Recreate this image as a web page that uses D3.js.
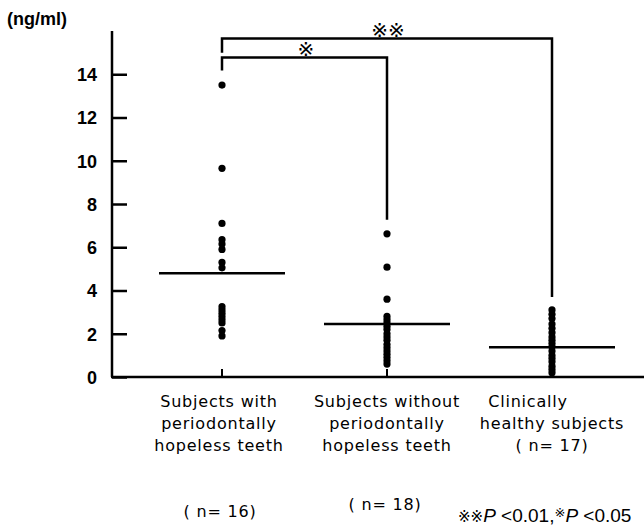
<!DOCTYPE html>
<html>
<head>
<meta charset="utf-8">
<script src="https://cdn.jsdelivr.net/npm/d3@7"></script>
<style>
body{margin:0;background:#fff;}
text{fill:#000;}
</style>
</head>
<body>
<div id="chart"></div>
<script>
const W = 644, H = 532;

// data
var groups = ["hopeless","without","healthy"];
var labelLines = [
  ["Subjects with","periodontally","hopeless teeth"],
  ["Subjects without","periodontally","hopeless teeth"],
  ["Clinically","healthy subjects","( n= 17)"]
];
var nLabels = ["( n= 16)","( n= 18)",""];
var vals1 = [13.5,9.65,7.1,6.35,6.15,5.9,5.3,5.05,3.25,3.1,2.95,2.8,2.65,2.5,2.15,1.9];
var vals2 = [6.62,5.08,3.6,2.8,2.65,2.5,2.35,2.2,2.0,1.85,1.7,1.5,1.35,1.2,1.05,0.9,0.75,0.6];
var vals3 = [3.1,2.9,2.7,2.45,2.25,2.05,1.85,1.7,1.55,1.4,1.2,1.0,0.85,0.7,0.5,0.35,0.2];
var medians = [4.8,2.45,1.37];
var yTicks = [0,2,4,6,8,10,12,14];
// bracket: from group, to group, top value, left leg end, right leg end, mark
var brackets = [
  ["hopeless","healthy",15.65,15.0,3.7,"※※"],
  ["hopeless","without",14.78,14.17,7.27,"※"]
];

const svg = d3.select("#chart").append("svg").attr("width",W).attr("height",H);

var y = d3.scaleLinear().domain([0,16]).range([377,31]);
var x = d3.scalePoint().domain(groups).range([222,552]);
var axisX = 112;
var labFont = "DejaVu Sans, sans-serif";
var markFont = "DejaVu Sans";

// y axis
var yAxis = d3.axisLeft(y).tickValues(yTicks).tickSize(-15).tickPadding(15);
var gy = svg.append("g").attr("transform","translate("+axisX+",0)").call(yAxis);
gy.select(".domain").attr("d","M0,"+y(16)+"V"+y(0)).attr("stroke","#000").attr("stroke-width",2.5);
gy.selectAll(".tick line").attr("stroke","#000").attr("stroke-width",2.5);
gy.selectAll(".tick text").attr("font-family","Liberation Sans, Arial, sans-serif")
  .attr("font-size",18).attr("font-weight","bold").attr("fill","#000").attr("dy","0.36em");

// x axis line + ticks
svg.append("line").attr("x1",axisX-1).attr("x2",W).attr("y1",y(0)).attr("y2",y(0))
  .attr("stroke","#000").attr("stroke-width",2.5);
svg.selectAll(".xt").data(groups).enter().append("line")
  .attr("x1",d=>x(d)).attr("x2",d=>x(d)).attr("y1",y(0)).attr("y2",y(0)-8)
  .attr("stroke","#000").attr("stroke-width",2);

svg.append("text").attr("x",7).attr("y",25).text("(ng/ml)")
  .attr("font-family","Liberation Sans, Arial, sans-serif").attr("font-size",18).attr("font-weight","bold");

// dots
var allVals = [vals1,vals2,vals3];
allVals.forEach(function(vs,i){
  svg.selectAll(".dot"+i).data(vs).enter().append("circle")
    .attr("cx",x(groups[i])).attr("cy",d=>y(d)).attr("r",3.6).attr("fill","#000");
});

// median lines
svg.selectAll(".med").data(medians).enter().append("line")
  .attr("x1",(d,i)=>x(groups[i])-63).attr("x2",(d,i)=>x(groups[i])+63)
  .attr("y1",d=>y(d)).attr("y2",d=>y(d)).attr("stroke","#000").attr("stroke-width",2.5);

// brackets
brackets.forEach(function(b){
  var x1 = x(b[0]), x2 = x(b[1]);
  svg.append("path")
    .attr("d","M"+x1+","+y(b[3])+"V"+y(b[2])+"H"+x2+"V"+y(b[4]))
    .attr("fill","none").attr("stroke","#000").attr("stroke-width",2.5);
});
svg.append("text").attr("x",388).attr("y",37).attr("text-anchor","middle")
  .attr("font-family",markFont).attr("font-size",20).text(brackets[0][5]);
svg.append("text").attr("x",306).attr("y",56).attr("text-anchor","middle")
  .attr("font-family",markFont).attr("font-size",20).text(brackets[1][5]);

// category labels
var labX = [219,387,552];
labelLines.forEach(function(lines,i){
  lines.forEach(function(t,j){
    var lx = labX[i];
    if (i==2 && j==0) lx = 528;
    svg.append("text").attr("x",lx).attr("y",407+j*22).attr("text-anchor","middle")
      .attr("font-family",labFont).attr("font-size",16).attr("letter-spacing",0.8).text(t);
  });
});
svg.append("text").attr("x",220).attr("y",517).attr("text-anchor","middle")
  .attr("font-family",labFont).attr("font-size",16).attr("letter-spacing",0.8).text(nLabels[0]);
svg.append("text").attr("x",385).attr("y",510).attr("text-anchor","middle")
  .attr("font-family",labFont).attr("font-size",16).attr("letter-spacing",0.8).text(nLabels[1]);

// footnote
var fn = svg.append("text").attr("x",458).attr("y",522)
  .attr("font-family","Liberation Sans, Arial, sans-serif").attr("font-size",19);
fn.append("tspan").attr("font-family",markFont).attr("font-size",15).text("※※");
fn.append("tspan").attr("font-style","italic").text("P");
fn.append("tspan").text(" <0.01,");
fn.append("tspan").attr("font-family",markFont).attr("font-size",13).attr("dy",-5).text("※");
fn.append("tspan").attr("font-style","italic").attr("dy",5).text("P");
fn.append("tspan").text(" <0.05");
</script>
</body>
</html>
